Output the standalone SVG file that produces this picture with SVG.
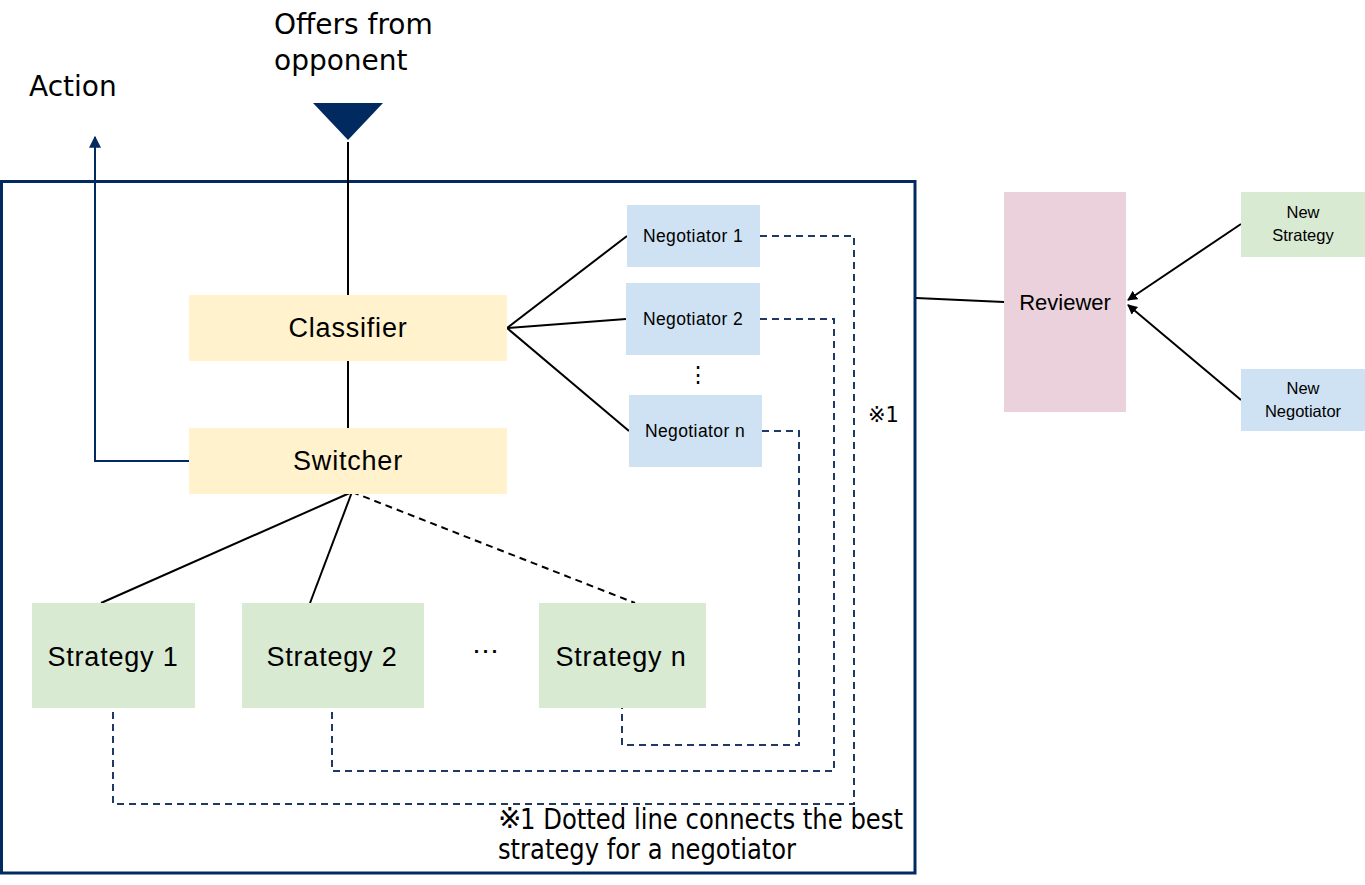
<svg xmlns="http://www.w3.org/2000/svg" width="1365" height="885" viewBox="0 0 1365 885">
<style>
.lbl{font-family:"DejaVu Sans","Liberation Sans",sans-serif;font-size:28px;fill:#000}
.box{font-family:"Liberation Sans",Arial,sans-serif;fill:#000;text-anchor:middle}
.big{font-size:27px;letter-spacing:0.8px}
.med{font-size:17.5px;letter-spacing:0.4px}
.sml{font-size:16.5px}
.yel{fill:#FFF2CC}
.blu{fill:#CFE2F3}
.grn{fill:#D9EAD3}
.pnk{fill:#EAD1DC}
.ln{stroke:#000;stroke-width:2;fill:none}
.dash{stroke:#1F3864;stroke-width:2;fill:none;stroke-dasharray:7 5}
.dashb{stroke:#000;stroke-width:2;fill:none;stroke-dasharray:7 5}
</style>
<defs>
<marker id="ah" viewBox="0 0 10 10" refX="9" refY="5" markerWidth="5" markerHeight="5" orient="auto"><path d="M0,0 L10,5 L0,10 z" fill="#000"/></marker>
<marker id="ahn" viewBox="0 0 10 10" refX="9" refY="5" markerWidth="6" markerHeight="6" orient="auto"><path d="M0,0 L10,5 L0,10 z" fill="#002A60"/></marker>
</defs>
<rect width="1365" height="885" fill="#fff"/>
<g id="frame"><rect x="1.5" y="181.5" width="913.5" height="691.5" fill="none" stroke="#002A60" stroke-width="3"/></g>
<g id="connectors">
<line class="ln" x1="348" y1="142" x2="348" y2="295"/>
<line class="ln" x1="348" y1="361" x2="348" y2="428"/>
<polyline points="189,461 95,461 95,137" fill="none" stroke="#002A60" stroke-width="2" marker-end="url(#ahn)"/>
<line class="ln" x1="507" y1="328" x2="627" y2="236"/>
<line class="ln" x1="507" y1="328" x2="626" y2="319"/>
<line class="ln" x1="507" y1="328" x2="629" y2="431"/>
<line class="ln" x1="352" y1="492" x2="101" y2="603"/>
<line class="ln" x1="352" y1="492" x2="310" y2="603"/>
<line class="dashb" x1="352" y1="492" x2="635" y2="603"/>
<polyline class="dash" points="760,236 854,236 854,804 113,804 113,708"/>
<polyline class="dash" points="760,319 834,319 834,771 332,771 332,708"/>
<polyline class="dash" points="762,431 799,431 799,745 622,745 622,708"/>
<line class="ln" x1="916" y1="298" x2="1004" y2="302"/>
<line class="ln" x1="1241" y1="224" x2="1128" y2="300" marker-end="url(#ah)"/>
<line class="ln" x1="1241" y1="400" x2="1128" y2="305" marker-end="url(#ah)"/>
</g>
<g id="offers"><polygon points="313,103 383,103 348,140" fill="#002A60"/>
<text class="lbl" x="274" y="34">Offers from</text><text class="lbl" x="274" y="70">opponent</text></g>
<g id="action"><text class="lbl" x="29" y="96">Action</text></g>
<g id="classifier"><rect class="yel" x="189" y="295" width="318" height="66"/><text class="box big" x="348" y="337">Classifier</text></g>
<g id="switcher"><rect class="yel" x="189" y="428" width="318" height="66"/><text class="box big" x="348" y="470">Switcher</text></g>
<g id="negotiator1"><rect class="blu" x="627" y="205" width="133" height="62"/><text class="box med" x="693" y="242">Negotiator 1</text></g>
<g id="negotiator2"><rect class="blu" x="626" y="283" width="134" height="72"/><text class="box med" x="693" y="325">Negotiator 2</text></g>
<g id="vdots"><text class="box" x="698" y="382" font-size="22">⋮</text></g>
<g id="negotiatorn"><rect class="blu" x="629" y="395" width="133" height="72"/><text class="box med" x="695" y="437">Negotiator n</text></g>
<g id="strategy1"><rect class="grn" x="32" y="603" width="163" height="105"/><text class="box big" x="113" y="666">Strategy 1</text></g>
<g id="strategy2"><rect class="grn" x="242" y="603" width="182" height="105"/><text class="box big" x="332" y="666">Strategy 2</text></g>
<g id="hdots"><text class="box" x="485" y="660" font-size="27">⋯</text></g>
<g id="strategyn"><rect class="grn" x="539" y="603" width="167" height="105"/><text class="box big" x="621" y="666">Strategy n</text></g>
<g id="note1"><text x="868" y="422" font-family="DejaVu Sans,sans-serif" font-size="21">※1</text></g>
<g id="footnote"><text class="lbl" x="498" y="828" font-size="20">※</text><text class="lbl" x="520" y="829" font-size="23" textLength="383" lengthAdjust="spacingAndGlyphs">1 Dotted line connects the best</text><text class="lbl" x="498" y="859" font-size="23" textLength="298" lengthAdjust="spacingAndGlyphs">strategy for a negotiator</text></g>
<g id="reviewer"><rect class="pnk" x="1004" y="192" width="122" height="220"/><text class="box" x="1065" y="310" font-size="22">Reviewer</text></g>
<g id="newstrategy"><rect class="grn" x="1241" y="192" width="124" height="65"/><text class="box sml" x="1303" y="218">New</text><text class="box sml" x="1303" y="241">Strategy</text></g>
<g id="newnegotiator"><rect class="blu" x="1241" y="369" width="124" height="62"/><text class="box sml" x="1303" y="394">New</text><text class="box sml" x="1303" y="417">Negotiator</text></g>
</svg>
